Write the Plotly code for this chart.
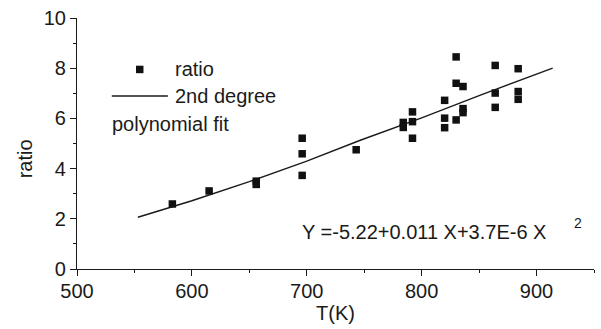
import plotly.graph_objects as go

# Data
temp_K = [583, 615, 656, 656, 696, 696, 696, 743,
          784, 784, 792, 792, 792,
          820, 820, 820, 830, 830, 830,
          836, 836, 836, 864, 864, 864, 884, 884, 884]
ratio = [2.59, 3.11, 3.50, 3.37, 5.21, 4.59, 3.73, 4.75,
         5.84, 5.64, 6.26, 5.87, 5.21,
         6.72, 6.01, 5.63, 8.45, 7.40, 5.94,
         7.27, 6.39, 6.23, 8.11, 7.01, 6.44, 7.98, 7.07, 6.76]

fit_x = [553, 600, 650, 700, 746, 800, 850, 914]
fit_y = [2.06, 2.72, 3.48, 4.30, 5.12, 6.02, 6.91, 8.00]

x_ticks = [500, 600, 700, 800, 900]
y_ticks = [0, 2, 4, 6, 8, 10]

FONT = "Liberation Sans, Arial, sans-serif"
INK = "#1a1a1a"
FS = 20

fig = go.Figure()
fig.add_trace(go.Scatter(x=fit_x, y=fit_y, mode="lines",
                         line=dict(color=INK, width=1.4), showlegend=False,
                         hoverinfo="skip"))
fig.add_trace(go.Scatter(x=temp_K, y=ratio, mode="markers",
                         marker=dict(symbol="square", size=7.5, color="#111111"),
                         showlegend=False))

axis_common = dict(showline=True, linecolor=INK, linewidth=1.2, showgrid=False,
                   zeroline=False, ticks="outside", ticklen=6, tickwidth=1.2,
                   tickcolor=INK, mirror=False,
                   tickfont=dict(family=FONT, size=FS, color=INK))

fig.update_xaxes(range=[500, 950], tickvals=x_ticks, ticklabelstandoff=-2,
                 minor=dict(ticks="outside", ticklen=3, tickwidth=1.2,
                            tickcolor=INK, dtick=50, tick0=500),
                 title=dict(text="T(K)", font=dict(family=FONT, size=FS, color=INK),
                            standoff=0),
                 **axis_common)
fig.update_yaxes(range=[0, 10], tickvals=y_ticks,
                 minor=dict(ticks="outside", ticklen=3, tickwidth=1.2,
                            tickcolor=INK, dtick=1, tick0=0),
                 **axis_common)

# Legend drawn by hand (as in the original figure)
fig.add_shape(type="rect", xref="x", yref="y", xsizemode="pixel", ysizemode="pixel",
              xanchor=554.6, yanchor=7.95, x0=-3.75, x1=3.75, y0=-3.75, y1=3.75,
              fillcolor="#111111", line=dict(width=0))
fig.add_shape(type="line", xref="x", yref="y", x0=530.3, x1=579.1, y0=6.89, y1=6.89,
              line=dict(color=INK, width=1.4))
for txt, xx, yy in [("ratio", 584.0, 7.95), ("2nd degree", 584.0, 6.89),
                    ("polynomial fit", 530.0, 5.79)]:
    fig.add_annotation(text=txt, x=xx, y=yy, xref="x", yref="y", showarrow=False,
                       xanchor="left", yanchor="middle", borderpad=0,
                       font=dict(family=FONT, size=FS, color=INK))

fig.add_annotation(text="Y =-5.22+0.011 X+3.7E-6 X", x=695.0, y=1.47, xref="x", yref="y",
                   showarrow=False, xanchor="left", yanchor="middle", borderpad=0,
                   font=dict(family=FONT, size=FS, color=INK))
fig.add_annotation(text="2", x=936.2, y=1.84, xref="x", yref="y",
                   showarrow=False, xanchor="center", yanchor="middle",
                   font=dict(family=FONT, size=14, color=INK))

# y-axis title
fig.add_annotation(text="ratio", x=25, y=158, xref="paper", yref="paper",
                   showarrow=False, textangle=-90, font=dict(family=FONT, size=FS, color=INK))

fig.update_layout(width=601, height=329, margin=dict(l=77, r=7, t=15, b=60),
                  plot_bgcolor="white", paper_bgcolor="white", showlegend=False)

# convert the y-title annotation to paper coordinates
pw, ph = 601 - 77 - 7, 329 - 15 - 60
ann = fig.layout.annotations[-1]
ann.x = (25 - 77) / pw
ann.y = (329 - 60 - 158) / ph
ann.xanchor = "center"
ann.yanchor = "middle"

fig.write_html("out.html")
